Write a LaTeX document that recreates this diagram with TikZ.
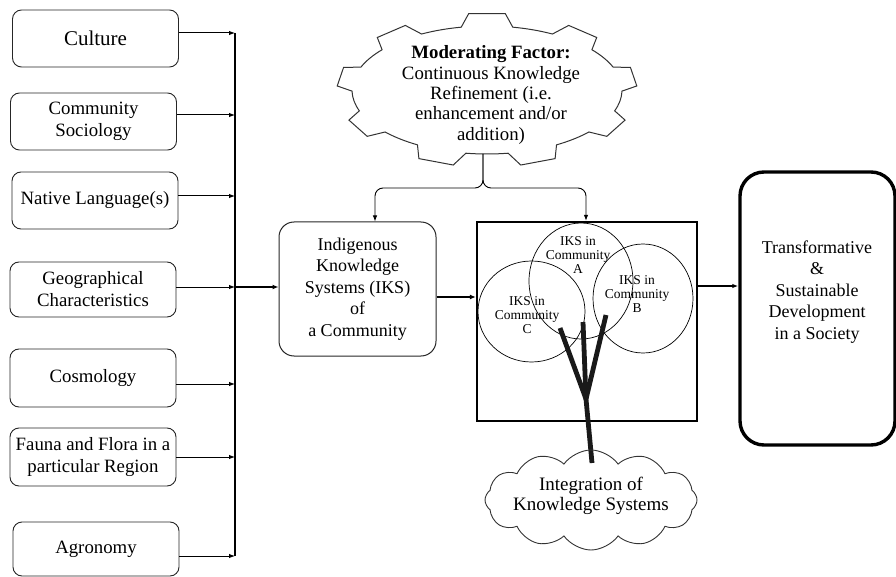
\documentclass[tikz,border=0pt]{standalone}
\usepackage{fontspec}
\setmainfont{Liberation Serif}
\usetikzlibrary{arrows.meta,shapes.symbols}
\begin{document}
\begin{tikzpicture}[x=1pt,y=-1pt,
  lbox/.style={draw=black!85, rounded corners=9pt, line width=0.9pt, minimum width=166pt,
    minimum height=57pt, align=center, inner sep=2pt, font=\fontsize{18.8}{22}\selectfont},
  txt/.style={align=center, inner sep=0pt, font=\fontsize{18}{21.5}\selectfont},
  small/.style={align=center, inner sep=0pt, font=\fontsize{13.5}{13.8}\selectfont},
  arr/.style={-{Latex[length=6pt,width=4.5pt]}, line width=1pt},
  thickarr/.style={-{Latex[length=6pt,width=5pt]}, line width=2.2pt},
  gearline/.style={draw=black!80, line width=1pt},
  treeline/.style={line width=4.8pt, draw=black!90},
  circ/.style={draw, line width=0.7pt}]
\useasboundingbox (0,0) rectangle (896,577);

% left factor boxes
\node[lbox, minimum height=57pt, font=\fontsize{21}{24}\selectfont] (cul) at (95.5,38.5) {Culture};
\node[lbox] (soc) at (93.5,121.5) {Community\\Sociology};
\node[lbox] (lan) at (95,200.5) {Native Language(s)};
\node[lbox, minimum height=55pt] (geo) at (93,289.5) {Geographical\\Characteristics};
\node[lbox, minimum height=58pt] (cos) at (93,378) {Cosmology};
\node[lbox, minimum height=58pt] (fau) at (93,457) {Fauna and Flora in a\\particular Region};
\node[lbox, minimum height=54pt] (agr) at (96,549) {Agronomy};

% bus
\coordinate (b1) at (235,33);
\coordinate (b2) at (235,115);
\coordinate (b3) at (235,196);
\coordinate (b4) at (235,287);
\coordinate (b5) at (235,384);
\coordinate (b6) at (235,457);
\coordinate (b7) at (235,556);
\draw[line width=1.3pt] (b1) -- (b7);
\draw[arr] (cul.east |- b1) -- (b1);
\draw[arr] (soc.east |- b2) -- (b2);
\draw[arr] (lan.east |- b3) -- (b3);
\draw[arr] (geo.east |- b4) -- (b4);
\draw[arr] (cos.east |- b5) -- (b5);
\draw[arr] (fau.east |- b6) -- (b6);
\draw[arr] (agr.east |- b7) -- (b7);

% IKS box
\node[draw=black!85, rounded corners=15pt, line width=1pt, minimum width=157pt, minimum height=134pt,
  txt] (iks) at (357.5,289) {Indigenous\\Knowledge\\Systems (IKS)\\of\\a Community};
\draw[thickarr] (b4) -- (iks.west |- b4);

% square with circles
\node[draw, line width=2.4pt, minimum width=220pt, minimum height=199pt, inner sep=0pt] (sq) at (587,321.5) {};
\coordinate (m1) at (436,297);
\draw[thickarr] (iks.east |- m1) -- (sq.west |- m1);

\draw[circ] (581,281) ellipse [x radius=52, y radius=58];
\draw[circ] (643,298.5) ellipse [x radius=50, y radius=54.5];
\draw[circ] (531.5,311.5) ellipse [x radius=53.5, y radius=50.5];
\node[small] (ca) at (578,255) {IKS in\\Community\\A};
\node[small] (cb) at (637,294) {IKS in\\Community\\B};
\node[small] (cc) at (527,315) {IKS in\\Community\\C};

% tree
\coordinate (tl) at (560,328);
\coordinate (tm) at (583,322);
\coordinate (tr) at (606,315);
\coordinate (tj) at (586,399);
\coordinate (ts) at (592,463);
\draw[treeline] (tl) -- (tj);
\draw[treeline] (tm) -- (tj);
\draw[treeline] (tr) -- (tj);
\draw[treeline] (tj) -- (ts);

% cloud
\node[cloud, draw=black!80, line width=0.9pt, cloud puffs=12, cloud puff arc=110, aspect=2.1,
  minimum width=212pt, minimum height=100pt, inner sep=0pt] (cl) at (591,500) {};
\node[txt, font=\fontsize{19}{20.5}\selectfont] (clt) at (591,496) {Integration of\\Knowledge Systems};

% right box
\node[draw, line width=3.4pt, rounded corners=24pt, minimum width=155pt, minimum height=273pt] (dev) at (817.5,308.5) {};
\node[txt] (devt) at (817,292) {Transformative\\\&\\Sustainable\\Development\\in a Society};
\coordinate (m2) at (697,286);
\draw[arr, line width=1.3pt] (sq.east |- m2) -- (dev.west |- m2);

% gear
\def\gx{487}\def\gy{90}
\draw[gearline] ({\gx+135*cos(259)},{\gy+64*sin(259)})
  \foreach \c [evaluate=\c as \s using \c+11, evaluate=\c as \e using \c+29] in {270,310,350,390,430,470,510,550,590} {
    -- ({\gx+135*cos(\c-11)},{\gy+64*sin(\c-11)})
    -- ({\gx+150*cos(\c-7)},{\gy+77*sin(\c-7)})
    -- ({\gx+150*cos(\c+7)},{\gy+77*sin(\c+7)})
    -- ({\gx+135*cos(\c+11)},{\gy+64*sin(\c+11)})
    arc[start angle=\s, end angle=\e, x radius=135, y radius=64]
  } -- cycle;
\node[txt, font=\fontsize{18.8}{20.3}\selectfont] (gt) at (491,95)
  {\textbf{Moderating Factor:}\\Continuous Knowledge\\Refinement (i.e.\\enhancement and/or\\addition)};

% brace connector
\coordinate (gb) at (483,154);
\coordinate (k1) at (375,188);
\coordinate (k2) at (586,188);
\draw[arr, line width=0.9pt, rounded corners=8pt] (gb) -- (483,188) -- (k1) -- (k1 |- iks.north);
\draw[arr, line width=0.9pt, rounded corners=8pt] (gb) -- (483,188) -- (k2) -- (k2 |- sq.north);
\end{tikzpicture}
\end{document}
